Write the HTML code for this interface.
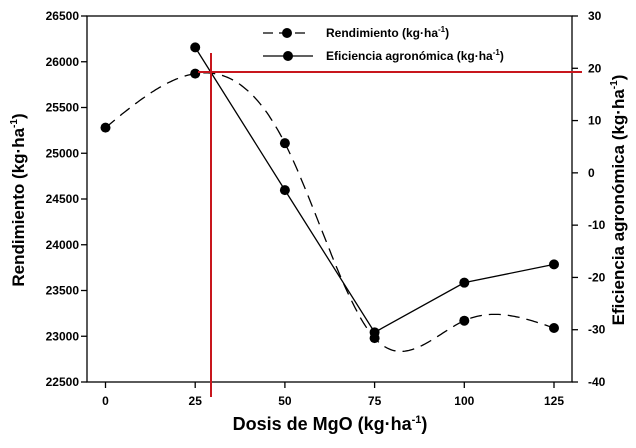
<!DOCTYPE html>
<html><head><meta charset="utf-8"><style>
body{margin:0;background:#fff;}
svg{display:block;font-family:"Liberation Sans",Arial,sans-serif;}
.tk{font-size:12px;font-weight:bold;}
.tt{font-size:17px;font-weight:bold;}
.lg{font-size:12px;font-weight:bold;}
</style></head><body>
<svg id="chart" width="636" height="448" viewBox="0 0 636 448" xmlns="http://www.w3.org/2000/svg"></svg>
<script>
const doses = [0, 25, 50, 75, 100, 125];
const rendimiento = [25280, 25870, 25110, 22980, 23170, 23090];
const efDoses = [25, 50, 75, 100, 125];
const eficiencia = [24, -3.3, -30.5, -21, -17.5];
const leftTicks = [22500, 23000, 23500, 24000, 24500, 25000, 25500, 26000, 26500];
const rightTicks = [-40, -30, -20, -10, 0, 10, 20, 30];
const xTicks = [0, 25, 50, 75, 100, 125];

const L = 87, R = 572, T = 16, B = 382;
const X = d => 105.5 + d * (89.7 / 25);
const YL = v => B - (v - 22500) / 4000 * (B - T);
const YR = v => B - (v + 40) / 70 * (B - T);
const svg = document.getElementById('chart');
const NS = 'http://www.w3.org/2000/svg';
function mk(tag, attrs, parent) {
  const e = document.createElementNS(NS, tag);
  for (const k in attrs) e.setAttribute(k, attrs[k]);
  (parent || svg).appendChild(e);
  return e;
}

// frame
let f = mk('rect', {x: L, y: T, width: R - L, height: B - T, fill: 'none', stroke: '#000', 'stroke-width': 1.3});



leftTicks.forEach(v => {
  const y = YL(v);
  mk('line', {x1: L - 6, x2: L, y1: y, y2: y, stroke: '#000', 'stroke-width': 1.3});
  const t = mk('text', {x: L - 8, y: y + 4, 'text-anchor': 'end', class: 'tk'});
  t.textContent = v;
  
  
});
rightTicks.forEach(v => {
  const y = YR(v);
  mk('line', {x1: R, x2: R + 6, y1: y, y2: y, stroke: '#000', 'stroke-width': 1.3});
  const t = mk('text', {x: R + 16, y: y + 4, 'text-anchor': 'start', class: 'tk'});
  t.textContent = v;
  
  
});
xTicks.forEach(v => {
  const x = X(v);
  mk('line', {x1: x, x2: x, y1: B, y2: B + 6, stroke: '#000', 'stroke-width': 1.3});
  const t = mk('text', {x: x, y: B + 23, 'text-anchor': 'middle', class: 'tk'});
  t.textContent = v;
  
  
});

// natural cubic spline for rendimiento
function spline(xs, ys) {
  const n = xs.length, h = [], a = [], l = [1], mu = [0], z = [0], c = new Array(n).fill(0), b = [], d = [];
  for (let i = 0; i < n - 1; i++) h.push(xs[i + 1] - xs[i]);
  for (let i = 1; i < n - 1; i++) a[i] = 3 / h[i] * (ys[i + 1] - ys[i]) - 3 / h[i - 1] * (ys[i] - ys[i - 1]);
  for (let i = 1; i < n - 1; i++) {
    l[i] = 2 * (xs[i + 1] - xs[i - 1]) - h[i - 1] * mu[i - 1];
    mu[i] = h[i] / l[i];
    z[i] = (a[i] - h[i - 1] * z[i - 1]) / l[i];
  }
  for (let j = n - 2; j >= 0; j--) {
    c[j] = (j === 0 ? 0 : z[j] - mu[j] * c[j + 1]);
    b[j] = (ys[j + 1] - ys[j]) / h[j] - h[j] * (c[j + 1] + 2 * c[j]) / 3;
    d[j] = (c[j + 1] - c[j]) / (3 * h[j]);
  }
  return x => {
    let i = Math.min(n - 2, Math.max(0, xs.findIndex((v, k) => k < n - 1 && x <= xs[k + 1])));
    const dx = x - xs[i];
    return ys[i] + b[i] * dx + c[i] * dx * dx + d[i] * dx * dx * dx;
  };
}
const sp = spline(doses, rendimiento);
let dpath = '';
for (let x = doses[0]; x <= doses[doses.length - 1] + 0.001; x += 0.5) {
  dpath += (dpath ? 'L' : 'M') + X(x).toFixed(1) + ',' + YL(sp(x)).toFixed(1);
}
let rl = mk('path', {d: dpath, fill: 'none', stroke: '#000', 'stroke-width': 1.3, 'stroke-dasharray': '12,7'});



let epath = efDoses.map((d, i) => (i ? 'L' : 'M') + X(d) + ',' + YR(eficiencia[i])).join('');
let el2 = mk('path', {d: epath, fill: 'none', stroke: '#000', 'stroke-width': 1.3});



doses.forEach((d, i) => {
  const c = mk('circle', {cx: X(d), cy: YL(rendimiento[i]), r: 5, fill: '#000'});
  
  
});
efDoses.forEach((d, i) => {
  const c = mk('circle', {cx: X(d), cy: YR(eficiencia[i]), r: 5, fill: '#000'});
  
  
});

// red reference lines
let rv = mk('line', {x1: 211, x2: 211, y1: 53, y2: 397, stroke: '#c8161d', 'stroke-width': 2});


let rh = mk('line', {x1: 198, x2: 582, y1: 72, y2: 72, stroke: '#c8161d', 'stroke-width': 2});


</script>
<svg style="position:absolute;left:0;top:0" width="636" height="448">
  <g>
    <line x1="263" y1="33" x2="310" y2="33" stroke="#000" stroke-width="1.3" stroke-dasharray="10,6"/>
    <circle cx="287" cy="33" r="5" fill="#000"/>
    <text x="326" y="37" class="lg">Rendimiento (kg·ha<tspan dy="-5" font-size="8">-1</tspan><tspan dy="5">)</tspan></text>
    <line x1="263" y1="56" x2="313" y2="56" stroke="#000" stroke-width="1.3"/>
    <circle cx="288" cy="56" r="5" fill="#000"/>
    <text x="326" y="60" class="lg">Eficiencia agronómica (kg·ha<tspan dy="-5" font-size="8">-1</tspan><tspan dy="5">)</tspan></text>
  </g>
  <text x="330" y="430" text-anchor="middle" class="tt" style="font-size:18px">Dosis de MgO (kg·ha<tspan dy="-7" font-size="11">-1</tspan><tspan dy="7">)</tspan></text>
  <text transform="translate(24,200) rotate(-90)" text-anchor="middle" class="tt">Rendimiento (kg·ha<tspan dy="-7" font-size="10">-1</tspan><tspan dy="7">)</tspan></text>
  <text transform="translate(624,200) rotate(-90)" text-anchor="middle" class="tt">Eficiencia agronómica (kg·ha<tspan dy="-7" font-size="10">-1</tspan><tspan dy="7">)</tspan></text>
</svg>
</body></html>
